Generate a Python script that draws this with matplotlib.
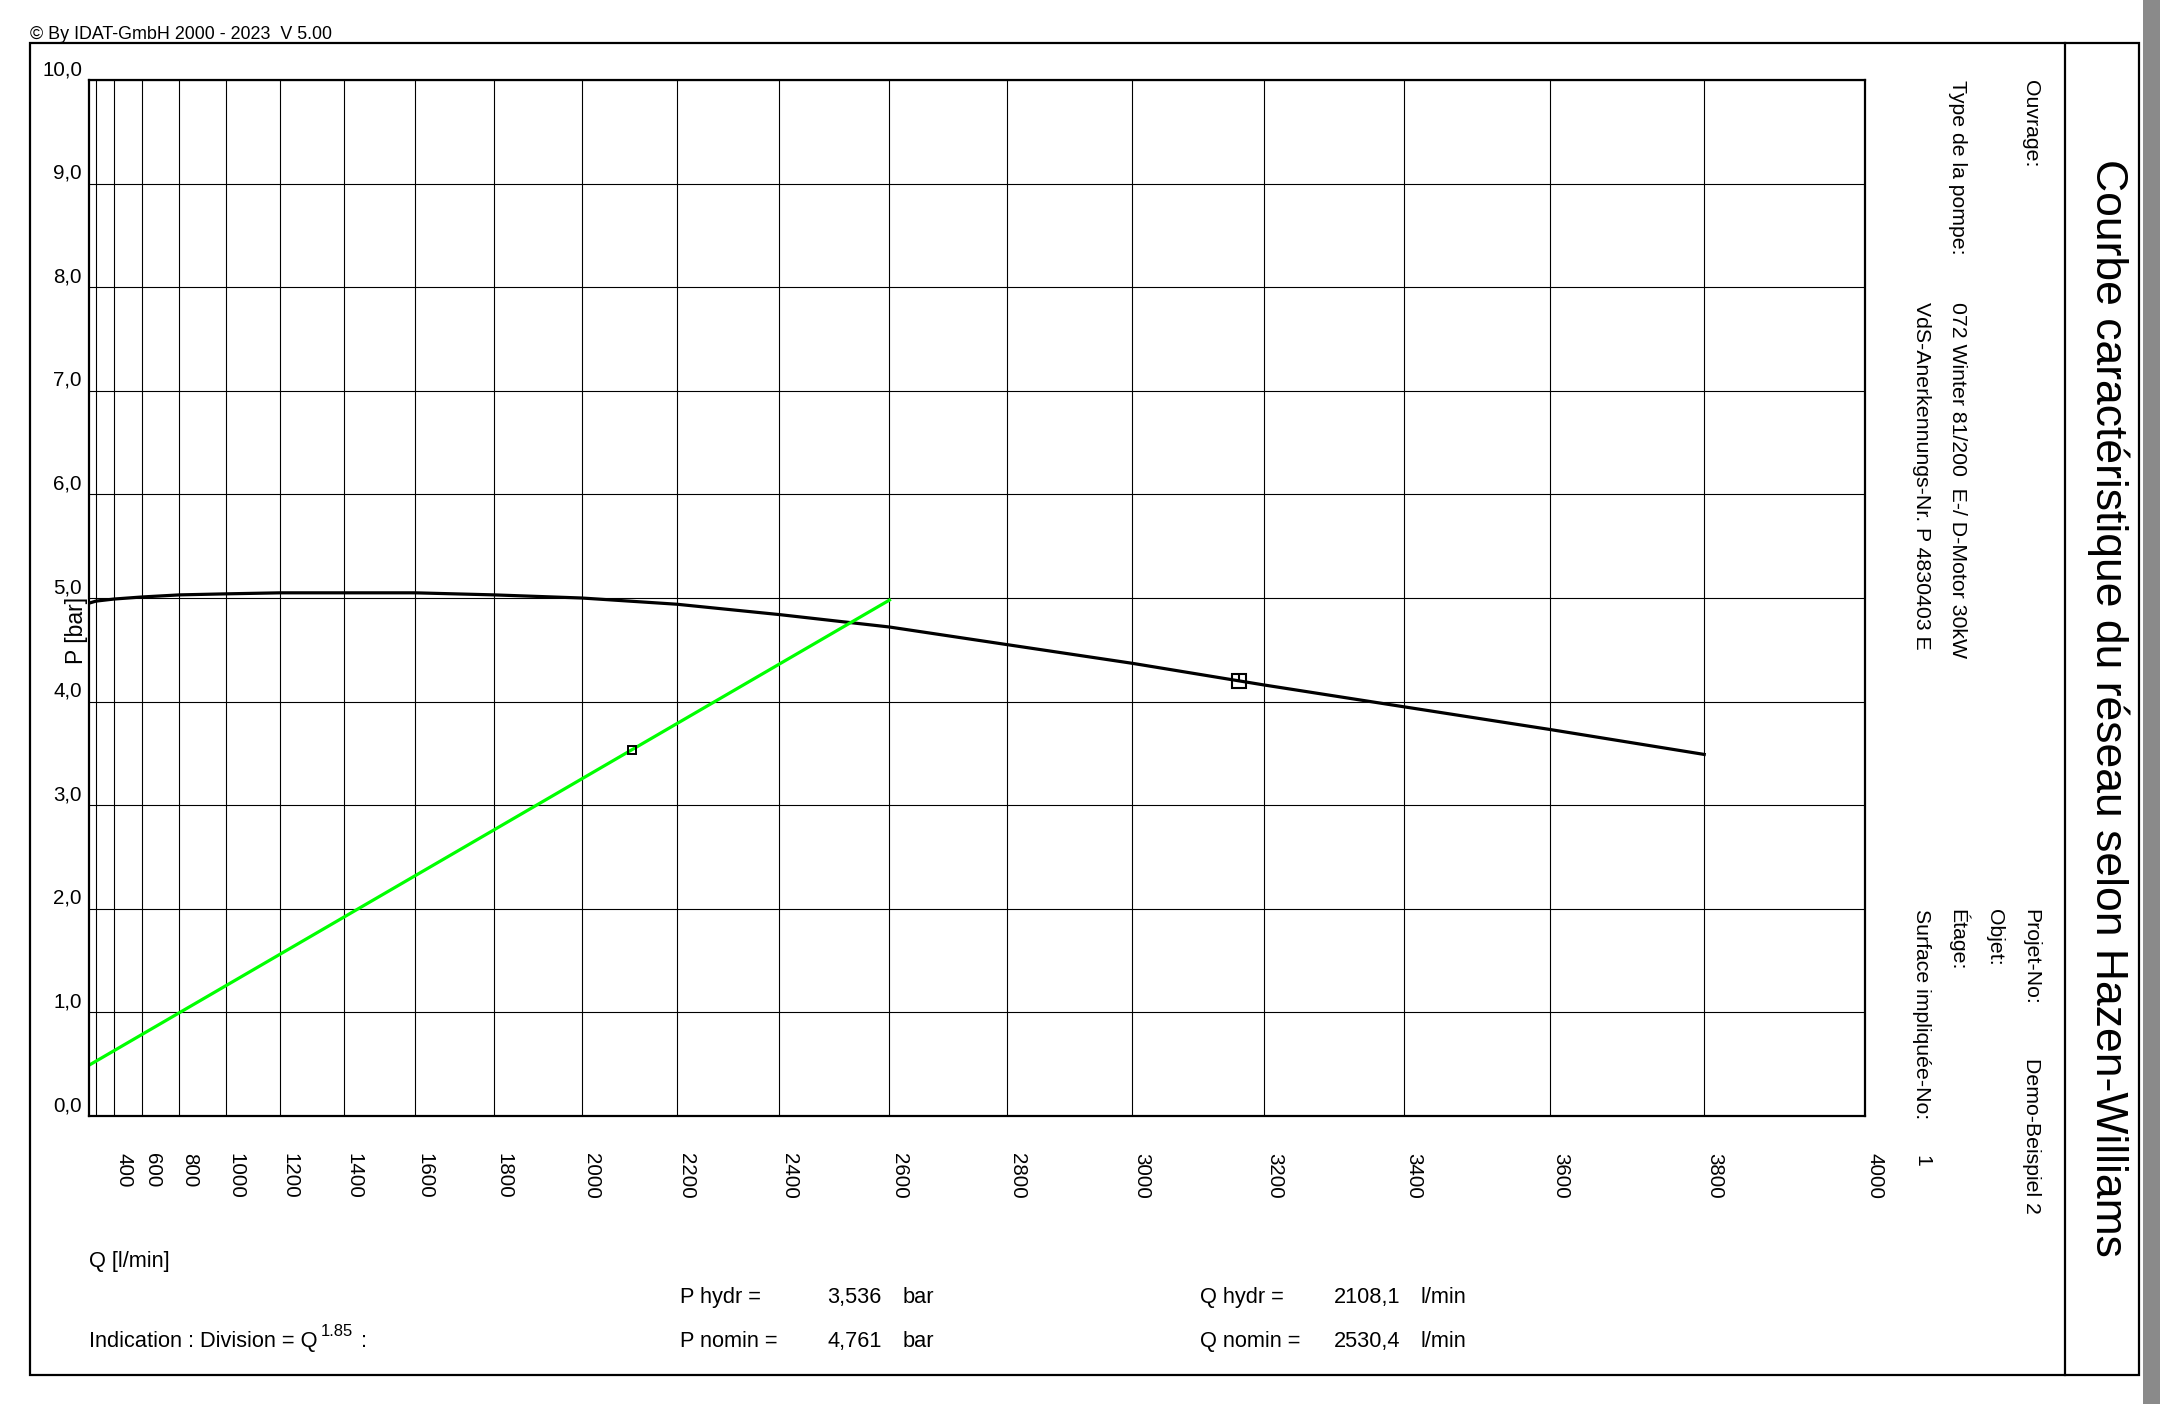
import numpy as np
import matplotlib
matplotlib.use("Agg")
import matplotlib.pyplot as plt
from matplotlib.patches import Rectangle
from matplotlib.lines import Line2D
from matplotlib.transforms import offset_copy

W, H = 2169, 1404

# pump characteristic (at the grid lines)
pump_q = [0, 200, 400, 600, 800, 1000, 1200, 1400, 1600, 1800, 2000,
          2200, 2400, 2600, 2800, 3000, 3200, 3400, 3600, 3800]
pump_p = [4.95, 4.97, 4.99, 5.01, 5.03, 5.04, 5.05, 5.05, 5.05, 5.03, 5.00,
          4.94, 4.84, 4.72, 4.55, 4.37, 4.16, 3.95, 3.73, 3.49]

# network curve, a straight line on the Q^1.85 scale
net_q = [0, 2600]
net_p = [0.49, 4.98]

# marked points
hydr_q = [2108.1]
hydr_p = [3.536]
mark_q = [3163]
mark_p = [4.20]

grid_q = [200, 400, 600, 800, 1000, 1200, 1400, 1600, 1800, 2000, 2200,
          2400, 2600, 2800, 3000, 3200, 3400, 3600, 3800, 4000]
x_tick_q = [400, 600, 800, 1000, 1200, 1400, 1600, 1800, 2000, 2200,
            2400, 2600, 2800, 3000, 3200, 3400, 3600, 3800, 4000]
y_ticks = [0, 1, 2, 3, 4, 5, 6, 7, 8, 9, 10]
y_tick_labels = ["0,0", "1,0", "2,0", "3,0", "4,0", "5,0",
                 "6,0", "7,0", "8,0", "9,0", "10,0"]

plt.rcParams["font.family"] = ["Liberation Sans", "DejaVu Sans"]


def fx(px):
    return px / W


def fy(py):
    return 1 - py / H


def fwd(q):
    q = np.asarray(q, dtype=float)
    return np.sign(q) * np.abs(q) ** 1.85


def inv(v):
    v = np.asarray(v, dtype=float)
    return np.sign(v) * np.abs(v) ** (1 / 1.85)


fig = plt.figure(figsize=(W / 100, H / 100), dpi=100)
ax = fig.add_axes([fx(89), fy(1116), fx(1865) - fx(89), fy(80) - fy(1116)])

ax.set_xscale("function", functions=(fwd, inv))
ax.set_xlim(0, 4000)
ax.set_ylim(0, 10)
ax.set_xticks(grid_q)
ax.set_yticks(y_ticks)
ax.tick_params(length=0, labelbottom=False, labelleft=False)
ax.grid(True, color="black", lw=0.8)
ax.set_axisbelow(True)
for s in ax.spines.values():
    s.set_linewidth(1.6)

ax.plot(pump_q, pump_p, color="black", lw=2.3)
ax.plot(net_q, net_p, color="#00ff00", lw=2.3)
ax.plot(mark_q, mark_p, ls="none", marker="s", ms=10, mfc="none",
        mec="black", mew=1.5)
ax.plot(mark_q, mark_p, ls="none", marker=[(0, 0), (0, 1)], ms=10,
        mec="black", mew=1.5)
ax.plot(hydr_q, hydr_p, ls="none", marker="s", ms=5.5, mfc="none",
        mec="black", mew=1.4)

# tick labels, placed like the original (beside the grid lines)
xlab_tr = offset_copy(ax.get_xaxis_transform(), fig=fig, x=10, y=-37, units="dots")
for q in x_tick_q:
    ax.text(q, 0, str(q), transform=xlab_tr, rotation=270,
            ha="center", va="top", fontsize=14.8)

ylab_tr = offset_copy(ax.get_yaxis_transform(), fig=fig, x=-7, y=5, units="dots")
for y, lab in zip(y_ticks, y_tick_labels):
    ax.text(0, y, lab, transform=ylab_tr, ha="right", va="baseline", fontsize=14.8)

fig.text(fx(77), fy(630), "P [bar]", rotation=90, ha="center", va="center",
         fontsize=16.5)

# frame
fig.add_artist(Rectangle((fx(30), fy(1375)), fx(2139) - fx(30), fy(43) - fy(1375),
                         transform=fig.transFigure, fill=False, lw=1.6, ec="black"))
fig.add_artist(Line2D([fx(2065), fx(2065)], [fy(43), fy(1375)],
                      transform=fig.transFigure, color="black", lw=1.6))
fig.add_artist(Rectangle((fx(2143), 0), fx(2160) - fx(2143), 1,
                         transform=fig.transFigure, fc="#8a8a8a", ec="none"))

fig.text(fx(30), fy(39), "\u00a9 By IDAT-GmbH 2000 - 2023  V 5.00",
         va="baseline", fontsize=12.9)

# bottom block
fs = 15.7
fig.text(fx(89), fy(1267), "Q [l/min]", va="baseline", fontsize=fs)
ind = fig.text(fx(89), fy(1347), "Indication : Division = Q", va="baseline", fontsize=fs)
renderer = fig.canvas.get_renderer()
x_end = ind.get_window_extent(renderer).x1
sup = fig.text((x_end + 3) / W, fy(1336), "1.85", va="baseline", fontsize=12)
x_end = sup.get_window_extent(renderer).x1
fig.text((x_end + 2) / W, fy(1347), " :", va="baseline", fontsize=fs)

rows = [
    (1303, "P hydr =", "3,536", "bar", "Q hydr =", "2108,1", "l/min"),
    (1347, "P nomin =", "4,761", "bar", "Q nomin =", "2530,4", "l/min"),
]
for yb, a, b, c, d, e, f in rows:
    for xp, t in zip([680, 827, 903, 1200, 1334, 1420], [a, b, c, d, e, f]):
        fig.text(fx(xp), fy(yb), t, va="baseline", fontsize=fs)

# right panel
fig.text(fx(2108), fy(159), "Courbe caract\u00e9ristique du r\u00e9seau selon Hazen-Williams",
         rotation=270, ha="center", va="top", fontsize=32)
panel = [
    ("Ouvrage:", 2031, 80),
    ("Type de la pompe:", 1958, 80),
    ("072 Winter 81/200  E-/ D-Motor 30kW", 1958, 302),
    ("VdS-Anerkennungs-Nr. P 4830403 E", 1922, 302),
    ("Projet-No:", 2031, 909),
    ("Demo-Beispiel 2", 2031, 1058),
    ("Objet:", 1994, 909),
    ("\u00c9tage:", 1958, 909),
    ("Surface impliqu\u00e9e-No:", 1922, 909),
    ("1", 1922, 1155),
]
for t, xp, yp in panel:
    fig.text(fx(xp), fy(yp), t, rotation=270, ha="center", va="top", fontsize=15.3)

fig.savefig("out.png", dpi=100)
